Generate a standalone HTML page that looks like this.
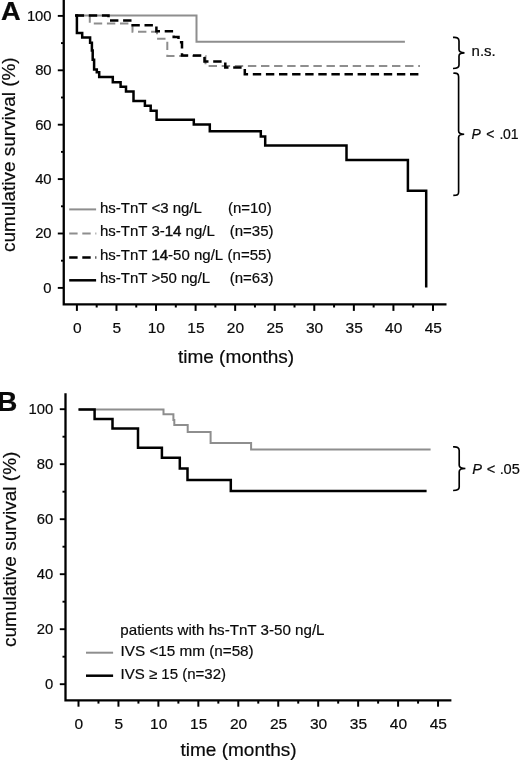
<!DOCTYPE html>
<html><head><meta charset="utf-8"><style>
html,body{margin:0;padding:0;background:#fff;width:520px;height:761px;overflow:hidden;}
svg{display:block;filter:blur(0.3px);}
text{font-family:"Liberation Sans", sans-serif;fill:#0a0a0a;stroke:#0a0a0a;stroke-width:0.2px;}
</style></head><body>
<svg width="520" height="761" viewBox="0 0 520 761">
<rect width="520" height="761" fill="#fff"/>
<path d="M63.75,0 V304.4 H446.5" fill="none" stroke="#000" stroke-width="2.3"/>
<line x1="57.8" y1="287.90" x2="63.75" y2="287.90" stroke="#000" stroke-width="1.9"/>
<line x1="61.0" y1="260.70" x2="63.75" y2="260.70" stroke="#000" stroke-width="1.9"/>
<line x1="57.8" y1="233.50" x2="63.75" y2="233.50" stroke="#000" stroke-width="1.9"/>
<line x1="61.0" y1="206.30" x2="63.75" y2="206.30" stroke="#000" stroke-width="1.9"/>
<line x1="57.8" y1="179.10" x2="63.75" y2="179.10" stroke="#000" stroke-width="1.9"/>
<line x1="61.0" y1="151.90" x2="63.75" y2="151.90" stroke="#000" stroke-width="1.9"/>
<line x1="57.8" y1="124.70" x2="63.75" y2="124.70" stroke="#000" stroke-width="1.9"/>
<line x1="61.0" y1="97.50" x2="63.75" y2="97.50" stroke="#000" stroke-width="1.9"/>
<line x1="57.8" y1="70.30" x2="63.75" y2="70.30" stroke="#000" stroke-width="1.9"/>
<line x1="61.0" y1="43.10" x2="63.75" y2="43.10" stroke="#000" stroke-width="1.9"/>
<line x1="57.8" y1="15.90" x2="63.75" y2="15.90" stroke="#000" stroke-width="1.9"/>
<line x1="76.90" y1="304.4" x2="76.90" y2="310.9" stroke="#000" stroke-width="2"/>
<line x1="96.68" y1="304.4" x2="96.68" y2="307.5" stroke="#000" stroke-width="2"/>
<line x1="116.47" y1="304.4" x2="116.47" y2="310.9" stroke="#000" stroke-width="2"/>
<line x1="136.25" y1="304.4" x2="136.25" y2="307.5" stroke="#000" stroke-width="2"/>
<line x1="156.03" y1="304.4" x2="156.03" y2="310.9" stroke="#000" stroke-width="2"/>
<line x1="175.81" y1="304.4" x2="175.81" y2="307.5" stroke="#000" stroke-width="2"/>
<line x1="195.60" y1="304.4" x2="195.60" y2="310.9" stroke="#000" stroke-width="2"/>
<line x1="215.38" y1="304.4" x2="215.38" y2="307.5" stroke="#000" stroke-width="2"/>
<line x1="235.16" y1="304.4" x2="235.16" y2="310.9" stroke="#000" stroke-width="2"/>
<line x1="254.94" y1="304.4" x2="254.94" y2="307.5" stroke="#000" stroke-width="2"/>
<line x1="274.73" y1="304.4" x2="274.73" y2="310.9" stroke="#000" stroke-width="2"/>
<line x1="294.51" y1="304.4" x2="294.51" y2="307.5" stroke="#000" stroke-width="2"/>
<line x1="314.29" y1="304.4" x2="314.29" y2="310.9" stroke="#000" stroke-width="2"/>
<line x1="334.07" y1="304.4" x2="334.07" y2="307.5" stroke="#000" stroke-width="2"/>
<line x1="353.86" y1="304.4" x2="353.86" y2="310.9" stroke="#000" stroke-width="2"/>
<line x1="373.64" y1="304.4" x2="373.64" y2="307.5" stroke="#000" stroke-width="2"/>
<line x1="393.42" y1="304.4" x2="393.42" y2="310.9" stroke="#000" stroke-width="2"/>
<line x1="413.20" y1="304.4" x2="413.20" y2="307.5" stroke="#000" stroke-width="2"/>
<line x1="432.99" y1="304.4" x2="432.99" y2="310.9" stroke="#000" stroke-width="2"/>
<text x="51.6" y="292.80" font-size="14.8" text-anchor="end" font-weight="normal" font-style="normal">0</text>
<text x="51.6" y="238.40" font-size="14.8" text-anchor="end" font-weight="normal" font-style="normal">20</text>
<text x="51.6" y="184.00" font-size="14.8" text-anchor="end" font-weight="normal" font-style="normal">40</text>
<text x="51.6" y="129.60" font-size="14.8" text-anchor="end" font-weight="normal" font-style="normal">60</text>
<text x="51.6" y="75.20" font-size="14.8" text-anchor="end" font-weight="normal" font-style="normal">80</text>
<text x="51.6" y="20.80" font-size="14.8" text-anchor="end" font-weight="normal" font-style="normal">100</text>
<text x="77.20" y="333.3" font-size="15.5" text-anchor="middle" font-weight="normal" font-style="normal">0</text>
<text x="116.77" y="333.3" font-size="15.5" text-anchor="middle" font-weight="normal" font-style="normal">5</text>
<text x="156.33" y="333.3" font-size="15.5" text-anchor="middle" font-weight="normal" font-style="normal">10</text>
<text x="195.90" y="333.3" font-size="15.5" text-anchor="middle" font-weight="normal" font-style="normal">15</text>
<text x="235.46" y="333.3" font-size="15.5" text-anchor="middle" font-weight="normal" font-style="normal">20</text>
<text x="275.03" y="333.3" font-size="15.5" text-anchor="middle" font-weight="normal" font-style="normal">25</text>
<text x="314.59" y="333.3" font-size="15.5" text-anchor="middle" font-weight="normal" font-style="normal">30</text>
<text x="354.16" y="333.3" font-size="15.5" text-anchor="middle" font-weight="normal" font-style="normal">35</text>
<text x="393.72" y="333.3" font-size="15.5" text-anchor="middle" font-weight="normal" font-style="normal">40</text>
<text x="433.29" y="333.3" font-size="15.5" text-anchor="middle" font-weight="normal" font-style="normal">45</text>
<text x="236" y="363.4" font-size="19" text-anchor="middle" font-weight="normal" font-style="normal">time (months)</text>
<text transform="translate(14.6,154.7) rotate(-90)" x="0" y="0" font-size="18.93" text-anchor="middle">cumulative survival (%)</text>
<text transform="translate(0.9,19.9) scale(1.06,1)" font-size="25.7" font-weight="bold">A</text>
<path d="M75,15.5 H196.5 V41.8 H404.9" fill="none" stroke="#8e8e8e" stroke-width="2.0" stroke-linejoin="miter"/>
<path d="M75,15.5 H89.8 V23.5 H132.5 V31.7 H157 V38.8 H167.3 V56 H205.5 V65.9 H420" fill="none" stroke="#8e8e8e" stroke-width="2.0" stroke-linejoin="miter" stroke-dasharray="8.4 4.7" stroke-dashoffset="-0.6"/>
<path d="M75,15.5 H108.5 V20.5 H132.7 V25.3 H156.4 V31.3 H173.7 V37.1 H178.5 V42.3 H182 V55.5 H204.5 V61.4 H225.3 V67.6 H244.8 V74.2 H420" fill="none" stroke="#000" stroke-width="2.5" stroke-linejoin="miter" stroke-dasharray="8.4 4.7" stroke-dashoffset="-0.7"/>
<path d="M75,15.5 H76.9 V32.9 H82.2 V37.6 H90.1 V42.7 H91.9 V50.6 H92.7 V59.7 H94.1 V69.6 H96.8 V72.3 H99.2 V77 H112.8 V82.2 H120.6 V86.8 H126 V91.4 H133.5 V101 H144.9 V105.7 H150.7 V110.7 H156.6 V119.8 H193.8 V124.4 H209.8 V131.2 H260.8 V136.5 H265.2 V145.5 H346.5 V159.9 H407.9 V190.8 H426.2 V287.5" fill="none" stroke="#000" stroke-width="2.5" stroke-linejoin="miter"/>
<line x1="69.2" y1="209.4" x2="96.1" y2="209.4" stroke="#8e8e8e" stroke-width="2.0"/>
<text x="100.0" y="212.9" font-size="15" text-anchor="start" font-weight="normal" font-style="normal">hs-TnT &lt;3 ng/L</text>
<text x="227.9" y="212.9" font-size="15" text-anchor="start" font-weight="normal" font-style="normal">(n=10)</text>
<line x1="69.2" y1="233.5" x2="96.3" y2="233.5" stroke="#8e8e8e" stroke-width="2.0" stroke-dasharray="8.4 4.7"/>
<text x="100.0" y="236.4" font-size="15" text-anchor="start" font-weight="normal" font-style="normal">hs-TnT 3-<tspan stroke="#111" stroke-width="0.5">14</tspan> ng/L</text>
<text x="229.7" y="236.4" font-size="15" text-anchor="start" font-weight="normal" font-style="normal">(n=35)</text>
<line x1="69.2" y1="257.4" x2="96.3" y2="257.4" stroke="#000" stroke-width="2.5" stroke-dasharray="8.4 4.7"/>
<text x="100.0" y="260.4" font-size="15" text-anchor="start" font-weight="normal" font-style="normal">hs-TnT <tspan stroke="#111" stroke-width="0.5">14</tspan>-50 ng/L</text>
<text x="227.6" y="260.4" font-size="15" text-anchor="start" font-weight="normal" font-style="normal">(n=55)</text>
<line x1="69.2" y1="280.3" x2="96.1" y2="280.3" stroke="#000" stroke-width="2.5"/>
<text x="100.0" y="283.2" font-size="15" text-anchor="start" font-weight="normal" font-style="normal">hs-TnT &gt;50 ng/L</text>
<text x="229.7" y="283.2" font-size="15" text-anchor="start" font-weight="normal" font-style="normal">(n=63)</text>
<path d="M453,37.4 C457,37.0 459,38.0 459,41.0 V49.5 C459,51.5 461,52.8 464.5,52.8 C461,52.8 459,54.0 459,56.0 V65.0 C459,68.0 457,68.5 453,68.5" fill="none" stroke="#000" stroke-width="1.65"/>
<path d="M453.3,73.2 C457.3,72.8 458.6,73.8 458.6,76.8 V130.89999999999998 C458.6,132.89999999999998 460.6,134.2 464.2,134.2 C460.6,134.2 458.6,135.39999999999998 458.6,137.39999999999998 V191.9 C458.6,194.9 457.3,195.4 453.3,195.4" fill="none" stroke="#000" stroke-width="1.65"/>
<text x="471.6" y="55.8" font-size="15" text-anchor="start" font-weight="normal" font-style="normal">n.s.</text>
<text x="471.5" y="139.0" font-size="14" text-anchor="start" font-weight="normal" font-style="normal"><tspan font-style="italic">P</tspan> <tspan dx="1.6">&lt;</tspan> <tspan dx="1.0">.</tspan><tspan dx="-0.3">01</tspan></text>
<path d="M65.5,393.2 V700.3 H451.4" fill="none" stroke="#000" stroke-width="2.3"/>
<line x1="59.8" y1="684.20" x2="65.5" y2="684.20" stroke="#000" stroke-width="1.9"/>
<line x1="62.5" y1="656.70" x2="65.5" y2="656.70" stroke="#000" stroke-width="1.9"/>
<line x1="59.8" y1="629.20" x2="65.5" y2="629.20" stroke="#000" stroke-width="1.9"/>
<line x1="62.5" y1="601.70" x2="65.5" y2="601.70" stroke="#000" stroke-width="1.9"/>
<line x1="59.8" y1="574.20" x2="65.5" y2="574.20" stroke="#000" stroke-width="1.9"/>
<line x1="62.5" y1="546.70" x2="65.5" y2="546.70" stroke="#000" stroke-width="1.9"/>
<line x1="59.8" y1="519.20" x2="65.5" y2="519.20" stroke="#000" stroke-width="1.9"/>
<line x1="62.5" y1="491.70" x2="65.5" y2="491.70" stroke="#000" stroke-width="1.9"/>
<line x1="59.8" y1="464.20" x2="65.5" y2="464.20" stroke="#000" stroke-width="1.9"/>
<line x1="62.5" y1="436.70" x2="65.5" y2="436.70" stroke="#000" stroke-width="1.9"/>
<line x1="59.8" y1="409.20" x2="65.5" y2="409.20" stroke="#000" stroke-width="1.9"/>
<line x1="78.50" y1="700.3" x2="78.50" y2="706.7" stroke="#000" stroke-width="2"/>
<line x1="98.47" y1="700.3" x2="98.47" y2="703.6" stroke="#000" stroke-width="2"/>
<line x1="118.45" y1="700.3" x2="118.45" y2="706.7" stroke="#000" stroke-width="2"/>
<line x1="138.43" y1="700.3" x2="138.43" y2="703.6" stroke="#000" stroke-width="2"/>
<line x1="158.40" y1="700.3" x2="158.40" y2="706.7" stroke="#000" stroke-width="2"/>
<line x1="178.38" y1="700.3" x2="178.38" y2="703.6" stroke="#000" stroke-width="2"/>
<line x1="198.35" y1="700.3" x2="198.35" y2="706.7" stroke="#000" stroke-width="2"/>
<line x1="218.33" y1="700.3" x2="218.33" y2="703.6" stroke="#000" stroke-width="2"/>
<line x1="238.30" y1="700.3" x2="238.30" y2="706.7" stroke="#000" stroke-width="2"/>
<line x1="258.27" y1="700.3" x2="258.27" y2="703.6" stroke="#000" stroke-width="2"/>
<line x1="278.25" y1="700.3" x2="278.25" y2="706.7" stroke="#000" stroke-width="2"/>
<line x1="298.23" y1="700.3" x2="298.23" y2="703.6" stroke="#000" stroke-width="2"/>
<line x1="318.20" y1="700.3" x2="318.20" y2="706.7" stroke="#000" stroke-width="2"/>
<line x1="338.18" y1="700.3" x2="338.18" y2="703.6" stroke="#000" stroke-width="2"/>
<line x1="358.15" y1="700.3" x2="358.15" y2="706.7" stroke="#000" stroke-width="2"/>
<line x1="378.12" y1="700.3" x2="378.12" y2="703.6" stroke="#000" stroke-width="2"/>
<line x1="398.10" y1="700.3" x2="398.10" y2="706.7" stroke="#000" stroke-width="2"/>
<line x1="418.07" y1="700.3" x2="418.07" y2="703.6" stroke="#000" stroke-width="2"/>
<line x1="438.05" y1="700.3" x2="438.05" y2="706.7" stroke="#000" stroke-width="2"/>
<text x="53.3" y="689.10" font-size="14.8" text-anchor="end" font-weight="normal" font-style="normal">0</text>
<text x="53.3" y="634.10" font-size="14.8" text-anchor="end" font-weight="normal" font-style="normal">20</text>
<text x="53.3" y="579.10" font-size="14.8" text-anchor="end" font-weight="normal" font-style="normal">40</text>
<text x="53.3" y="524.10" font-size="14.8" text-anchor="end" font-weight="normal" font-style="normal">60</text>
<text x="53.3" y="469.10" font-size="14.8" text-anchor="end" font-weight="normal" font-style="normal">80</text>
<text x="53.3" y="414.10" font-size="14.8" text-anchor="end" font-weight="normal" font-style="normal">100</text>
<text x="78.80" y="728.7" font-size="15.5" text-anchor="middle" font-weight="normal" font-style="normal">0</text>
<text x="118.75" y="728.7" font-size="15.5" text-anchor="middle" font-weight="normal" font-style="normal">5</text>
<text x="158.70" y="728.7" font-size="15.5" text-anchor="middle" font-weight="normal" font-style="normal">10</text>
<text x="198.65" y="728.7" font-size="15.5" text-anchor="middle" font-weight="normal" font-style="normal">15</text>
<text x="238.60" y="728.7" font-size="15.5" text-anchor="middle" font-weight="normal" font-style="normal">20</text>
<text x="278.55" y="728.7" font-size="15.5" text-anchor="middle" font-weight="normal" font-style="normal">25</text>
<text x="318.50" y="728.7" font-size="15.5" text-anchor="middle" font-weight="normal" font-style="normal">30</text>
<text x="358.45" y="728.7" font-size="15.5" text-anchor="middle" font-weight="normal" font-style="normal">35</text>
<text x="398.40" y="728.7" font-size="15.5" text-anchor="middle" font-weight="normal" font-style="normal">40</text>
<text x="438.35" y="728.7" font-size="15.5" text-anchor="middle" font-weight="normal" font-style="normal">45</text>
<text x="238.6" y="756.3" font-size="19" text-anchor="middle" font-weight="normal" font-style="normal">time (months)</text>
<text transform="translate(15.6,549.3) rotate(-90)" x="0" y="0" font-size="19.0" text-anchor="middle">cumulative survival (%)</text>
<text transform="translate(-3.0,410.6)" font-size="28.2" font-weight="bold">B</text>
<path d="M78.5,409.5 H163.5 V414.2 H173.4 V420 H174.3 V425.1 H187.7 V432 H210.6 V443 H251.1 V449.5 H430.6" fill="none" stroke="#8e8e8e" stroke-width="2.0" stroke-linejoin="miter"/>
<path d="M78.5,409.5 H94.6 V418.9 H112.5 V428.5 H138 V447.8 H161.9 V457.7 H179.8 V468.5 H187.5 V480 H230.8 V491 H426.6" fill="none" stroke="#000" stroke-width="2.5" stroke-linejoin="miter"/>
<text x="120.3" y="634.8" font-size="15.15" text-anchor="start" font-weight="normal" font-style="normal">patients with hs-TnT 3-50 ng/L</text>
<line x1="86" y1="652.7" x2="113.1" y2="652.7" stroke="#8e8e8e" stroke-width="2"/>
<line x1="86" y1="675.7" x2="113.1" y2="675.7" stroke="#000" stroke-width="2.5"/>
<text x="120.6" y="656.3" font-size="15.25" text-anchor="start" font-weight="normal" font-style="normal">IVS &lt;15 mm (n=58)</text>
<text x="120.6" y="679.4" font-size="15" text-anchor="start" font-weight="normal" font-style="normal">IVS ≥ 15 (n=32)</text>
<path d="M453.1,446.9 C457.1,446.5 459.2,447.5 459.2,450.5 V465.2 C459.2,467.2 461.2,468.5 465.4,468.5 C461.2,468.5 459.2,469.7 459.2,471.7 V487.0 C459.2,490.0 457.1,490.5 453.1,490.5" fill="none" stroke="#000" stroke-width="1.65"/>
<text x="472.2" y="473.5" font-size="14.6" text-anchor="start" font-weight="normal" font-style="normal"><tspan font-style="italic">P</tspan> <tspan dx="0.7">&lt;</tspan> <tspan dx="0.5">.</tspan><tspan dx="-0.3">05</tspan></text>
</svg>
</body></html>
